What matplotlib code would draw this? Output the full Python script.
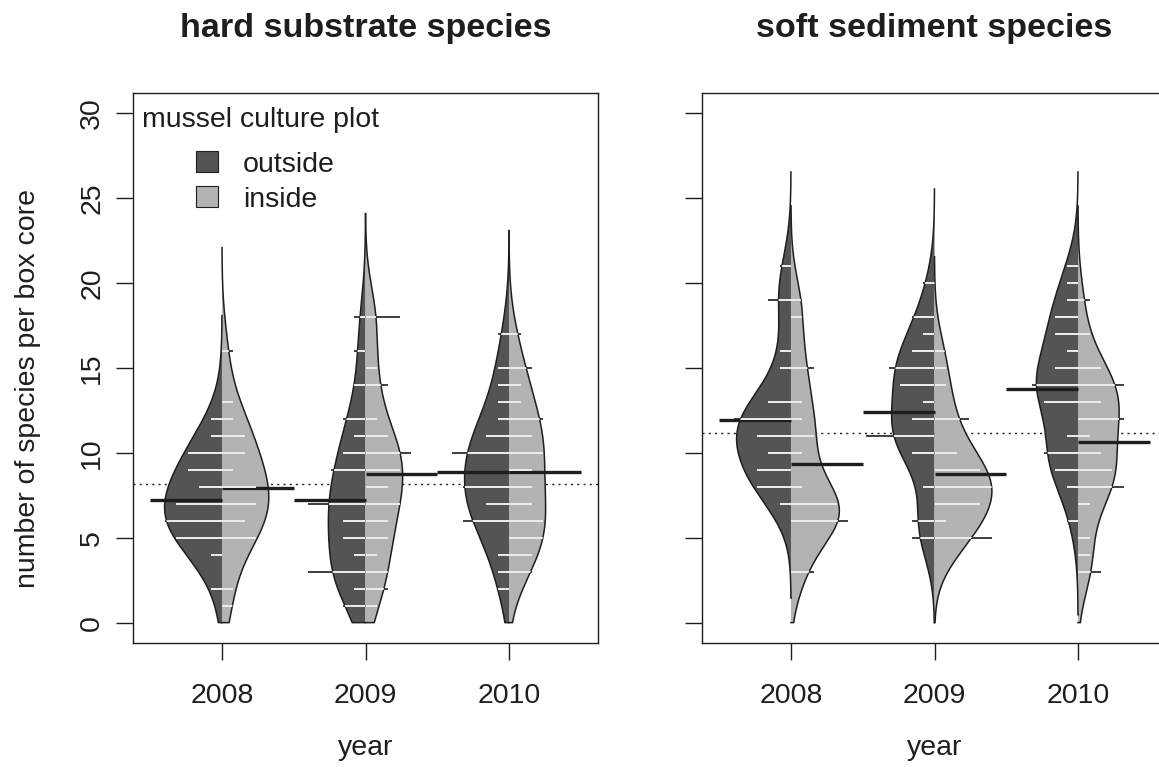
import numpy as np
import matplotlib
matplotlib.use('Agg')
from matplotlib import pyplot as plt
from matplotlib.patches import Polygon, Patch

plt.rcParams['font.family'] = ['Liberation Sans', 'DejaVu Sans']

years = ['2008', '2009', '2010']

# number of species per box core, hard substrate species
hard_out = [
    [2, 4, 5, 5, 5, 5, 6, 6, 6, 6, 6, 7, 7, 7, 7, 8, 8, 9, 9, 9, 10, 10, 10, 11, 12],
    [1, 1, 2, 3, 3, 3, 3, 3, 4, 5, 5, 6, 6, 7, 7, 7, 7, 7, 9, 9, 9, 10, 10, 11, 12, 12, 14, 16, 18],
    [2, 3, 4, 6, 6, 6, 6, 7, 7, 8, 8, 8, 8, 10, 10, 10, 10, 10, 11, 11, 12, 13, 14, 15, 17],
]
hard_in = [
    [1, 2, 5, 5, 5, 6, 6, 7, 7, 7, 8, 8, 8, 9, 10, 10, 11, 11, 12, 13, 16],
    [1, 2, 2, 3, 3, 4, 5, 5, 6, 6, 7, 7, 7, 8, 8, 9, 9, 9, 10, 10, 10, 10, 11, 11, 12, 14, 14, 15, 18, 18, 18],
    [3, 3, 4, 4, 5, 5, 5, 6, 6, 6, 7, 7, 8, 8, 9, 9, 10, 10, 10, 11, 11, 12, 12, 12, 13, 14, 15, 15, 17],
]

# soft sediment species
soft_out = [
    [7, 8, 8, 8, 9, 9, 9, 10, 10, 11, 11, 11, 12, 12, 12, 12, 12, 13, 13, 15, 16, 19, 19, 21],
    [5, 5, 6, 6, 8, 10, 10, 11, 11, 11, 11, 11, 11, 12, 12, 13, 14, 14, 14, 15, 15, 15, 15, 16, 16, 17, 18, 18, 20],
    [6, 8, 9, 9, 10, 10, 10, 11, 13, 13, 13, 14, 14, 14, 14, 15, 15, 16, 17, 17, 18, 18, 19, 20, 21],
]
soft_in = [
    [3, 3, 6, 6, 6, 6, 6, 7, 7, 7, 7, 8, 10, 11, 11, 12, 13, 15, 15, 18, 19],
    [5, 5, 5, 5, 5, 6, 7, 7, 7, 7, 8, 8, 8, 8, 8, 9, 9, 9, 9, 10, 10, 12, 12, 12, 14, 15, 16],
    [3, 3, 4, 5, 7, 8, 8, 8, 8, 9, 9, 9, 10, 10, 11, 12, 12, 12, 12, 13, 13, 14, 14, 14, 14, 15, 15, 17, 19],
]

DARK = '#545456'
LIGHT = '#b3b3b5'
INK = '#1e1e1e'
FS = 20.5


def kde(obs, grid, bw):
    z = (grid[:, None] - np.asarray(obs, float)[None, :]) / bw
    return np.exp(-0.5 * z ** 2).sum(axis=1) / (len(obs) * bw * np.sqrt(2 * np.pi))


def beanplot(ax, outside, inside, bw, maxwidth=0.8, ll=0.08):
    halves = []
    for i in range(len(years)):
        for obs, side, col in ((outside[i], -1, DARK), (inside[i], 1, LIGHT)):
            lo = max(0.0, min(obs) - 3 * bw)
            hi = max(obs) + 3 * bw
            y = np.linspace(lo, hi, 600)
            halves.append((i + 1, side, col, obs, y, kde(obs, y, bw)))
    scale = (maxwidth / 2) / max(h[5].max() for h in halves)

    for c, side, col, obs, y, d in halves:
        w = d * scale
        xs = c + side * w
        verts = np.column_stack([np.r_[c, xs, c], np.r_[y[0], y, y[-1]]])
        poly = Polygon(verts, closed=True, facecolor=col, edgecolor='none', zorder=2)
        ax.add_patch(poly)
        ax.plot(np.r_[c, xs], np.r_[y[0], y], color=INK, lw=1.1, zorder=2.5)

        # average line
        m = np.mean(obs)
        ax.plot([c, c + side * 0.5], [m, m], color=INK, lw=2.4,
                solid_capstyle='butt', zorder=3)

        # one line per observation, stacked for duplicates
        vals, cnts = np.unique(obs, return_counts=True)
        for v, n in zip(vals, cnts):
            x2 = c + side * n * ll
            ax.plot([c, x2], [v, v], color=INK, lw=1.2, solid_capstyle='butt', zorder=4)
            wl, = ax.plot([c, x2], [v, v], color='white', lw=1.3,
                          solid_capstyle='butt', zorder=5)
            wl.set_clip_path(poly)

    allobs = np.concatenate([np.r_[o] for o in outside + inside])
    ax.axhline(allobs.mean(), color=INK, lw=1.0, linestyle=(0, (1.5, 3)), zorder=1)


W, H = 1159, 767
fig = plt.figure(figsize=(W / 100, H / 100), dpi=100)
ax1 = fig.add_axes([133 / W, 1 - 643 / H, 465 / W, 550 / H])
ax2 = fig.add_axes([702 / W, 1 - 643 / H, 465 / W, 550 / H])

beanplot(ax1, hard_out, hard_in, bw=2.03)
beanplot(ax2, soft_out, soft_in, bw=1.85)

for ax, title in ((ax1, 'hard substrate species'), (ax2, 'soft sediment species')):
    ax.set_xlim(0.38, 3.62)
    ax.set_ylim(-1.2, 31.2)
    ax.set_xticks([1, 2, 3], years)
    ax.set_yticks(range(0, 31, 5))
    ax.tick_params(direction='out', length=12, width=1.0, color=INK,
                   labelsize=FS, labelcolor=INK)
    ax.tick_params(axis='x', pad=17)
    ax.tick_params(axis='y', pad=8, labelrotation=90)
    for lab in ax.get_yticklabels():
        lab.set_va('center')
    for sp in ax.spines.values():
        sp.set_linewidth(1.0)
        sp.set_color(INK)
    ax.set_title(title, fontsize=24.6, fontweight='bold', pad=40, color=INK)
    ax.text(0.5, -0.2036, 'year', transform=ax.transAxes, ha='center',
            va='baseline', fontsize=FS, color=INK)

ax2.tick_params(axis='y', labelleft=False)

fig.text(28 / W, 1 - 388 / H, 'number of species per box core', rotation=90,
         ha='center', va='center', fontsize=FS, color=INK)

# legend
ax1.text((142 - 133) / 465, (643 - 127) / 550, 'mussel culture plot',
         transform=ax1.transAxes, ha='left', va='baseline', fontsize=FS, color=INK)
handles = [Patch(facecolor=DARK, edgecolor=INK, lw=0.8),
           Patch(facecolor=LIGHT, edgecolor=INK, lw=0.8)]
ax1.legend(handles, ['outside', 'inside'], loc='upper left',
           bbox_to_anchor=((196 - 133) / 465, (643 - 151) / 550),
           frameon=False, borderpad=0, borderaxespad=0, handlelength=0.77,
           handleheight=0.77, handletextpad=0.88, labelspacing=0.3,
           fontsize=FS, labelcolor=INK)

fig.savefig('out.png', dpi=100)
